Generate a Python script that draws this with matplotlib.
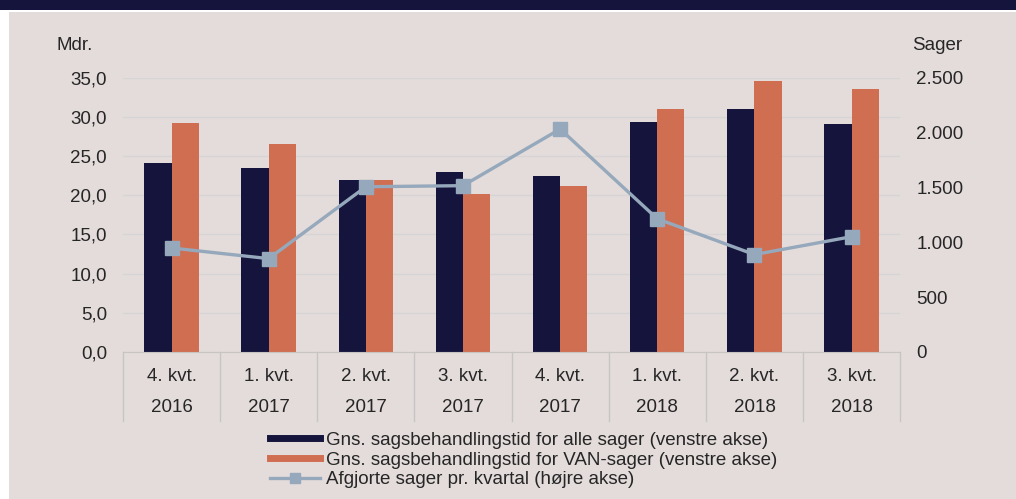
import matplotlib.pyplot as plt
import numpy as np
from matplotlib.patches import Rectangle
from matplotlib.lines import Line2D
import matplotlib.transforms as mtransforms

plt.rcParams['font.family'] = ['Liberation Sans', 'DejaVu Sans']

quarters = ["4. kvt.", "1. kvt.", "2. kvt.", "3. kvt.", "4. kvt.", "1. kvt.", "2. kvt.", "3. kvt."]
years = ["2016", "2017", "2017", "2017", "2017", "2018", "2018", "2018"]
alle_sager = [24.1, 23.5, 22.0, 23.0, 22.4, 29.3, 31.0, 29.1]
van_sager = [29.2, 26.6, 21.9, 20.1, 21.2, 31.0, 34.6, 33.6]
afgjorte = [948, 851, 1506, 1516, 2032, 1214, 888, 1051]

navy = '#15143C'
orange = '#D06E52'
grey_blue = '#96A8BB'
bg = '#E3DCDA'
text_col = '#262626'
fs = 13.5

fig = plt.figure(figsize=(10.16, 4.99), dpi=100, facecolor='white')
# background panel and top band
fig.patches.append(Rectangle((9/1016, 0), 1, 1 - 12/499, transform=fig.transFigure,
                             facecolor=bg, edgecolor='none', zorder=-10))
fig.patches.append(Rectangle((0, 1 - 10/499), 1, 10/499, transform=fig.transFigure,
                             facecolor=navy, edgecolor='none', zorder=-10))

ax = fig.add_axes([0.121, 0.2946, 0.765, 0.5497])
ax.set_facecolor('none')
x = np.arange(len(quarters))
w = 0.28
ax.bar(x - w/2, alle_sager, w, color=navy, zorder=2)
ax.bar(x + w/2, van_sager, w, color=orange, zorder=2)
ax.set_xlim(-0.5, len(quarters) - 0.5)
ax.set_ylim(0, 35)
ax.set_yticks(np.arange(0, 36, 5))
ax.set_yticklabels([f"{v:.1f}".replace('.', ',') for v in np.arange(0, 36, 5)])
ax.grid(axis='y', color='#D6D4D6', linewidth=1, zorder=0)
ax.set_xticks([])
for s in ['top', 'right', 'left']:
    ax.spines[s].set_visible(False)
ax.spines['bottom'].set_color('#C8C4C4')
ax.tick_params(axis='y', length=0, pad=11.5, labelsize=fs, labelcolor=text_col)

# two-level category labels with separators
trans = mtransforms.blended_transform_factory(ax.transData, ax.transAxes)
for b in np.arange(-0.5, len(quarters), 1):
    ax.plot([b, b], [0, -0.25], color='#C8C4C4', lw=1, transform=trans, clip_on=False)
for i in range(len(quarters)):
    ax.text(i, -0.091, quarters[i], transform=trans, ha='center', va='center', fontsize=fs, color=text_col)
    ax.text(i, -0.204, years[i], transform=trans, ha='center', va='center', fontsize=fs, color=text_col)

ax2 = ax.twinx()
ax2.plot(x, afgjorte, color=grey_blue, lw=2.4, marker='s', markersize=9.5, zorder=3)
ax2.set_ylim(0, 2500)
ax2.set_yticks(np.arange(0, 2501, 500))
ax2.set_yticklabels([f"{v:,}".replace(',', '.') for v in range(0, 2501, 500)])
for s in ax2.spines.values():
    s.set_visible(False)
ax2.tick_params(axis='y', length=0, pad=11.5, labelsize=fs, labelcolor=text_col)

fig.text(75/1016, 1 - 45/499, "Mdr.", ha='center', va='center', fontsize=fs, color=text_col)
fig.text(937/1016, 1 - 45/499, "Sager", ha='center', va='center', fontsize=fs, color=text_col)

handles = [Line2D([], [], color=navy, lw=5),
           Line2D([], [], color=orange, lw=5),
           Line2D([], [], color=grey_blue, lw=2.4, marker='s', markersize=7)]
labels = ["Gns. sagsbehandlingstid for alle sager (venstre akse)",
          "Gns. sagsbehandlingstid for VAN-sager (venstre akse)",
          "Afgjorte sager pr. kvartal (højre akse)"]
leg = fig.legend(handles, labels, loc='upper left', bbox_to_anchor=(262/1016, 1 - 424/499),
                 frameon=False, fontsize=fs, handlelength=2.67, handletextpad=0.32,
                 labelspacing=0.15, borderaxespad=0)
for t in leg.get_texts():
    t.set_color(text_col)

fig.savefig('out.png', dpi=100, facecolor=fig.get_facecolor())
